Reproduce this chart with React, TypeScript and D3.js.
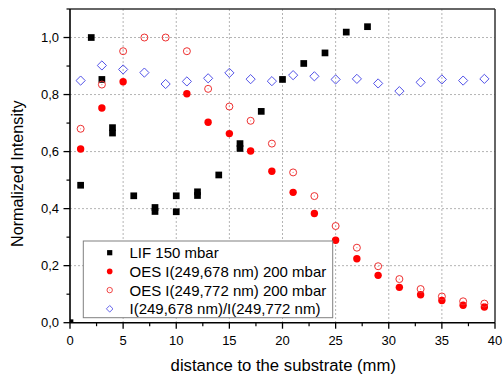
import * as d3 from "d3";

const W = 503;
const H = 376;
const M = { top: 9, right: 8, bottom: 53.3, left: 70 };
const IW = W - M.left - M.right;
const IH = H - M.top - M.bottom;

// LIF 150 mbar
const lifX = [0, 1, 2, 3, 4, 4, 6, 8, 8, 10, 10, 12, 12, 14, 16, 16, 18, 20, 22, 24, 26, 28];
const lifY = [0, 0.482, 1.0, 0.853, 0.684, 0.665, 0.445, 0.404, 0.39, 0.445, 0.389, 0.459, 0.446, 0.518, 0.628, 0.611, 0.741, 0.853, 0.909, 0.946, 1.019, 1.038];

// OES I(249,678 nm) 200 mbar
const oes678X = [1, 3, 5, 11, 13, 15, 17, 19, 21, 23, 25, 27, 29, 31, 33, 35, 37, 39];
const oes678Y = [0.609, 0.753, 0.845, 0.803, 0.703, 0.663, 0.602, 0.531, 0.457, 0.383, 0.289, 0.224, 0.166, 0.124, 0.098, 0.078, 0.061, 0.055];

// OES I(249,772 nm) 200 mbar
const oes772X = [1, 3, 5, 7, 9, 11, 13, 15, 17, 19, 21, 23, 25, 27, 29, 31, 33, 35, 37, 39];
const oes772Y = [0.68, 0.835, 0.952, 1.0, 1.0, 0.952, 0.82, 0.758, 0.708, 0.628, 0.527, 0.444, 0.339, 0.263, 0.198, 0.153, 0.118, 0.092, 0.075, 0.067];

// ratio I(678)/I(772)
const ratioX = [1, 3, 5, 7, 9, 11, 13, 15, 17, 19, 21, 23, 25, 27, 29, 31, 33, 35, 37, 39];
const ratioY = [0.849, 0.902, 0.888, 0.877, 0.837, 0.846, 0.857, 0.876, 0.854, 0.847, 0.868, 0.864, 0.853, 0.855, 0.839, 0.812, 0.843, 0.853, 0.849, 0.855];

const xTicks = [0, 5, 10, 15, 20, 25, 30, 35, 40];
const yTicks = [0, 0.2, 0.4, 0.6, 0.8, 1.0];
const legendLabels = [
	"LIF 150 mbar",
	"OES I(249,678 nm) 200 mbar",
	"OES I(249,772 nm) 200 mbar",
	"I(249,678 nm)/I(249,772 nm)",
];

const FONT = "'Liberation Sans', Arial, sans-serif";
const RED = "#ff0000";
const RED_OPEN = "#ee3030";
const BLUE = "#5252e8";

function diamond(cx: number, cy: number, r: number) {
	return `M${cx},${cy - r}L${cx + r},${cy}L${cx},${cy + r}L${cx - r},${cy}Z`;
}

export default function App() {
	const x = d3.scaleLinear().domain([0, 40]).range([0, IW]);
	const y = d3.scaleLinear().domain([0, 1.1]).range([IH, 0]);
	const fmt = (v: number) => d3.format(".1f")(v).replace(".", ",");

	const xMinor = d3.range(0, 40.01, 2.5).filter((v) => v % 5 !== 0);
	const yMinor = d3.range(0.1, 1.11, 0.2);

	const ly0 = 243.7 - M.top;
	const lstep = 18.7;

	return (
		<svg width={W} height={H} style={{ position: "absolute", left: 0, top: 0 }} fontFamily={FONT}>
			<defs>
				<clipPath id="plot">
					<rect x={0} y={0} width={IW} height={IH} />
				</clipPath>
			</defs>
			<rect width={W} height={H} fill="#fff" />
			<g transform={`translate(${M.left},${M.top})`}>
				{/* grid */}
				{xTicks.slice(1, -1).map((t) => (
					<line key={"gx" + t} x1={x(t)} x2={x(t)} y1={0} y2={IH} stroke="#b4b4b4" strokeDasharray="2,2" />
				))}
				{yTicks.slice(1).map((t) => (
					<line key={"gy" + t} x1={0} x2={IW} y1={y(t)} y2={y(t)} stroke="#b4b4b4" strokeDasharray="2,2" />
				))}

				{/* data */}
				<g clipPath="url(#plot)">
					{lifX.map((v, i) => (
						<rect key={"l" + i} x={x(v) - 3.35} y={y(lifY[i]) - 3.35} width={6.7} height={6.7} fill="#000" />
					))}
					{oes678X.map((v, i) => (
						<circle key={"f" + i} cx={x(v)} cy={y(oes678Y[i])} r={3.7} fill={RED} />
					))}
					{oes772X.map((v, i) => (
						<g key={"o" + i}>
							<circle cx={x(v)} cy={y(oes772Y[i])} r={3.5} fill="none" stroke={RED_OPEN} strokeWidth={1} />
							<circle cx={x(v)} cy={y(oes772Y[i])} r={0.6} fill="#f28080" />
						</g>
					))}
					{ratioX.map((v, i) => (
						<path key={"d" + i} d={diamond(x(v), y(ratioY[i]), 4.6)} fill="none" stroke={BLUE} strokeWidth={1} />
					))}
				</g>

				{/* frame */}
				<line x1={0} x2={IW} y1={0} y2={0} stroke="#333" strokeWidth={1.5} />
				<line x1={IW} x2={IW} y1={0} y2={IH} stroke="#333" strokeWidth={1.5} />
				<line x1={0} x2={0} y1={0} y2={IH} stroke="#000" strokeWidth={1.6} />
				<line x1={0} x2={IW} y1={IH} y2={IH} stroke="#000" strokeWidth={1.6} />

				{/* x axis ticks */}
				{xTicks.map((t) => (
					<g key={"xt" + t}>
						<line x1={x(t)} x2={x(t)} y1={IH} y2={IH + 6} stroke="#000" strokeWidth={1.3} />
						<text x={x(t)} y={IH + 22.3} textAnchor="middle" fontSize={13}>
							{t}
						</text>
					</g>
				))}
				{xMinor.map((t) => (
					<line key={"xm" + t} x1={x(t)} x2={x(t)} y1={IH} y2={IH + 3.5} stroke="#000" strokeWidth={1.2} />
				))}

				{/* y axis ticks */}
				{yTicks.map((t) => (
					<g key={"yt" + t}>
						<line x1={-6.5} x2={0} y1={y(t)} y2={y(t)} stroke="#000" strokeWidth={1.3} />
						<text x={-11} y={y(t)} dy="0.36em" textAnchor="end" fontSize={13}>
							{fmt(t)}
						</text>
					</g>
				))}
				{yMinor.map((t) => (
					<line key={"ym" + t} x1={-3.5} x2={0} y1={y(t)} y2={y(t)} stroke="#000" strokeWidth={1.2} />
				))}

				{/* legend */}
				<rect x={83.3 - M.left} y={241 - M.top} width={249.4} height={76.7} fill="#fff" stroke="#808080" strokeWidth={1} />
				{legendLabels.map((label, i) => {
					const cy = ly0 + 9 + i * lstep;
					const mx = 109.7 - M.left;
					let marker;
					if (i === 0) marker = <rect x={mx - 2.6} y={cy - 2.6} width={5.2} height={5.2} fill="#000" />;
					else if (i === 1) marker = <circle cx={mx} cy={cy} r={2.8} fill={RED} />;
					else if (i === 2)
						marker = (
							<g>
								<circle cx={mx} cy={cy} r={2.7} fill="none" stroke={RED_OPEN} strokeWidth={0.9} />
								<circle cx={mx} cy={cy} r={0.5} fill="#f28080" />
							</g>
						);
					else marker = <path d={diamond(mx, cy, 3.3)} fill="none" stroke={BLUE} strokeWidth={0.9} />;
					return (
						<g key={"lg" + i}>
							{marker}
							<text x={129.5 - M.left} y={cy + 5.6} fontSize={15}>
								{label}
							</text>
						</g>
					);
				})}
			</g>

			{/* axis titles */}
			<text x={283.3} y={370.7} textAnchor="middle" fontSize={16.7}>
				distance to the substrate (mm)
			</text>
			<text transform={`translate(23.3,173.7) rotate(-90)`} textAnchor="middle" fontSize={16.2}>
				Normalized Intensity
			</text>
		</svg>
	);
}
